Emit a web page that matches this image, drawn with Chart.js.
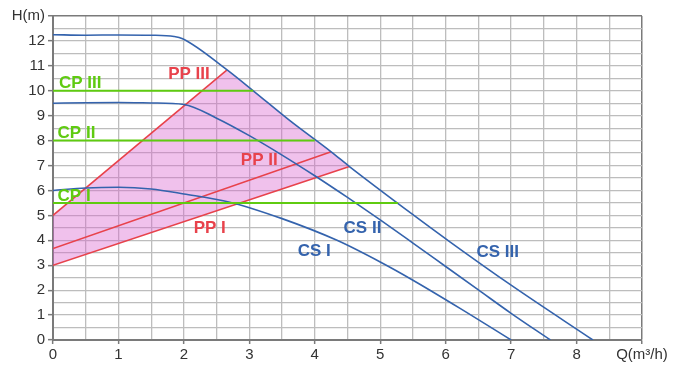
<!DOCTYPE html>
<html>
<head>
<meta charset="utf-8">
<script src="https://cdn.jsdelivr.net/npm/chart.js@4/dist/chart.umd.min.js"></script>
<style>
html,body{margin:0;padding:0;background:#fff;}
canvas{display:block;}
</style>
</head>
<body>
<canvas id="c" width="683" height="365"></canvas>
<script>
// ---- data (Q in m3/h, H in m) ----
const csI   = [[0,6.0],[0.5,6.1],[1,6.13],[1.5,6.06],[2,5.86],[2.7,5.53],[3.5,4.87],[4.34,4.0],[5,3.13],[5.5,2.4],[6.22,1.27],[7,0]];
const csII  = [[0,9.5],[0.5,9.52],[1,9.53],[1.5,9.51],[2,9.45],[2.5,8.9],[3,8.2],[3.5,7.42],[4,6.59],[4.5,5.72],[5,4.82],[5.5,3.89],[6,2.95],[6.5,2.01],[7,1.07],[7.6,0]];
const csIII = [[0,12.25],[0.5,12.23],[1,12.24],[1.5,12.23],[1.85,12.18],[1.98,12.09],[2.66,10.84],[3.06,10.0],[3.62,8.8],[4.25,7.55],[4.53,6.96],[5.5,5.03],[6.07,3.93],[7,2.2],[8.25,0]];
const ppI   = [[0,3.0],[4.53,6.96]];
const ppII  = [[0,3.67],[4.25,7.55]];
const ppIII = [[0,5.0],[2.66,10.84]];
const cpI   = [[0,5.5],[5.27,5.5]];
const cpII  = [[0,8.0],[4.0,8.0]];
const cpIII = [[0,10.0],[3.06,10.0]];
const xTickLabels = {0:'0',1:'1',2:'2',3:'3',4:'4',5:'5',6:'6',7:'7',8:'8',9:'Q(m³/h)'};
const yTickLabels = {0:'0',1:'1',2:'2',3:'3',4:'4',5:'5',6:'6',7:'7',8:'8',9:'9',10:'10',11:'11',12:'12',13:'H(m)'};
const curveLabels = [
  {text:'CP III', x:0.09, y:10.31, color:'green'},
  {text:'CP II',  x:0.07, y:8.28,  color:'green'},
  {text:'CP I',   x:0.07, y:5.77,  color:'green'},
  {text:'PP III', x:1.76, y:10.67, color:'red'},
  {text:'PP II',  x:2.87, y:7.2,   color:'red'},
  {text:'PP I',   x:2.15, y:4.5,   color:'red'},
  {text:'CS I',   x:3.74, y:3.55,  color:'blue'},
  {text:'CS II',  x:4.44, y:4.47,  color:'blue'},
  {text:'CS III', x:6.47, y:3.5,   color:'blue'}
];

const COLORS = {blue:'#3463ad', red:'#e8424b', green:'#5fcb10'};
const pts = a => a.map(p => ({x:p[0], y:p[1]}));

// shaded operating region: PP III up to CS III, down CS III to PP I end, bounded below by PP I
const xEndIII = ppIII[ppIII.length-1][0];
const xEndI = ppI[ppI.length-1][0];
const upper = ppIII.concat(csIII.filter(p => p[0] > xEndIII && p[0] <= xEndI));

const lineDs = (data, color, w) => ({
  data: pts(data), showLine:true, borderColor:color, borderWidth:w,
  pointRadius:0, fill:false, tension:0, order:0
});

const labelPlugin = {
  id:'curveLabels',
  afterDatasetsDraw(chart){
    const ctx = chart.ctx, xs = chart.scales.x, ys = chart.scales.y;
    ctx.save();
    ctx.font = 'bold 17px "Liberation Sans", Arial, sans-serif';
    ctx.textAlign = 'left';
    ctx.textBaseline = 'middle';
    curveLabels.forEach(l => {
      ctx.fillStyle = COLORS[l.color];
      ctx.fillText(l.text, xs.getPixelForValue(l.x), ys.getPixelForValue(l.y));
    });
    ctx.restore();
  }
};

new Chart(document.getElementById('c'), {
  type:'scatter',
  data:{ datasets:[
    {data:pts(upper), showLine:true, borderWidth:0, borderColor:'rgba(0,0,0,0)', pointRadius:0,
     backgroundColor:'rgba(218,100,208,0.4)', fill:'+1', tension:0, order:10},
    {data:pts(ppI), showLine:true, borderWidth:0, borderColor:'rgba(0,0,0,0)', pointRadius:0, fill:false, order:9},
    lineDs(cpI, COLORS.green, 2),
    lineDs(cpII, COLORS.green, 2),
    lineDs(cpIII, COLORS.green, 2),
    Object.assign(lineDs(csI, COLORS.blue, 1.6), {cubicInterpolationMode:'monotone'}),
    Object.assign(lineDs(csII, COLORS.blue, 1.6), {cubicInterpolationMode:'monotone'}),
    Object.assign(lineDs(csIII, COLORS.blue, 1.6), {cubicInterpolationMode:'monotone'}),
    lineDs(ppI, COLORS.red, 1.6),
    lineDs(ppII, COLORS.red, 1.6),
    lineDs(ppIII, COLORS.red, 1.6)
  ]},
  options:{
    responsive:false, animation:false, devicePixelRatio:1,
    layout:{padding:{top:16, right:41, left:0, bottom:0}},
    plugins:{legend:{display:false}, tooltip:{enabled:false}},
    scales:{
      x:{
        type:'linear', min:0, max:9,
        afterFit(s){ s.height = 25; },
        border:{color:'#7a7a7a', width:2},
        grid:{
          color: c => (c.tick && c.tick.value === 9) ? '#7a7a7a' : '#bdbdbd',
          lineWidth: c => (c.tick && c.tick.value === 9) ? 1.5 : 1.3,
          tickColor: c => (c.tick && Number.isInteger(c.tick.value)) ? '#7a7a7a' : 'rgba(0,0,0,0)',
          tickLength:4, tickWidth:1.5
        },
        ticks:{
          stepSize:0.5, autoSkip:false, maxRotation:0, padding:2,
          color:'#333', font:{family:'"Liberation Sans", Arial, sans-serif', size:15},
          callback: v => (v in xTickLabels) ? xTickLabels[v] : ''
        }
      },
      y:{
        type:'linear', min:0, max:13,
        afterFit(s){ s.width = 53; },
        border:{color:'#7a7a7a', width:2},
        grid:{
          color: c => (c.tick && c.tick.value === 13) ? '#7a7a7a' : '#bdbdbd',
          lineWidth: c => (c.tick && c.tick.value === 13) ? 1.5 : 1.3,
          tickColor: c => (c.tick && Number.isInteger(c.tick.value)) ? '#7a7a7a' : 'rgba(0,0,0,0)',
          tickLength:5, tickWidth:1.5
        },
        ticks:{
          stepSize:0.5, autoSkip:false, padding:3,
          color:'#333', font:{family:'"Liberation Sans", Arial, sans-serif', size:15},
          callback: v => (v in yTickLabels) ? yTickLabels[v] : ''
        }
      }
    }
  },
  plugins:[labelPlugin]
});
</script>
</body>
</html>
